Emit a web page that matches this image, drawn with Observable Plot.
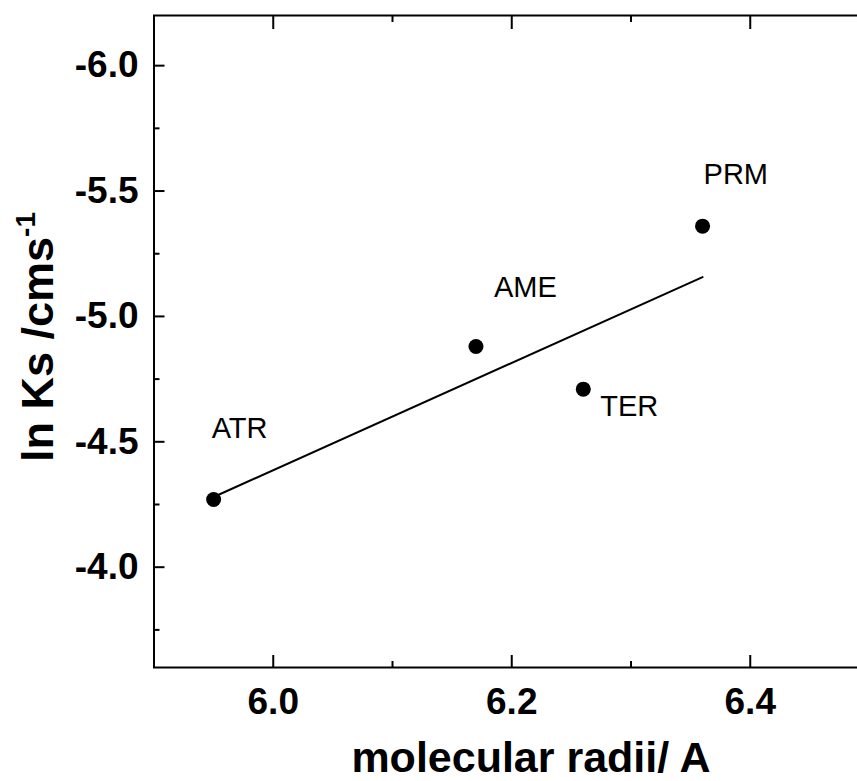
<!DOCTYPE html>
<html>
<head>
<meta charset="utf-8">
<script src="https://cdn.jsdelivr.net/npm/d3@7"></script>
<script src="https://cdn.jsdelivr.net/npm/@observablehq/plot@0.6"></script>
<style>
  html, body { margin: 0; padding: 0; background: #fff; overflow: hidden; }
  #chart { width: 857px; height: 781px; }
</style>
</head>
<body>
<div id="chart"></div>
<script>
// ---- data ----
const names = ["ATR", "AME", "TER", "PRM"];
const radii = [5.95, 6.17, 6.26, 6.36];
const lnKs = [-4.27, -4.88, -4.71, -5.36];
const fitX = [5.95, 6.36];
const fitY = [-4.28, -5.157];
const xMajor = [6.0, 6.2, 6.4];
const xMinor = [6.1, 6.3];
const yMajor = [-6.0, -5.5, -5.0, -4.5, -4.0];
const yMinor = [-5.75, -5.25, -4.75, -4.25, -3.75];

const points = names.map((n, i) => ({name: n, x: radii[i], y: lnKs[i]}));
const fit = fitX.map((x, i) => ({x, y: fitY[i]}));

const FONT = "'Liberation Sans', Arial, sans-serif";
const labelStyle = {
  ATR: {dx: -2, dy: -71},
  AME: {dx: 18, dy: -59},
  TER: {dx: 17, dy: 18},
  PRM: {dx: 1, dy: -51}
};
const fmt = d => d.toFixed(1);

const plot = Plot.plot({
  width: 857,
  height: 781,
  marginLeft: 153.5,
  marginRight: -12,
  marginTop: 15,
  marginBottom: 114,
  style: {fontFamily: FONT, background: "#fff", color: "#000"},
  x: {domain: [5.9, 6.5], label: null},
  y: {domain: [-3.6, -6.2], label: null},
  marks: [
    // tick labels
    Plot.axisY(yMajor, {anchor: "left", tickSize: 0, tickPadding: 15.5, tickFormat: fmt, fontSize: 37, fontWeight: "bold", label: null}),
    Plot.axisX(xMajor, {anchor: "bottom", tickSize: 0, tickPadding: 20, tickFormat: fmt, fontSize: 37, fontWeight: "bold", label: null}),
    // inward ticks
    Plot.axisY(yMajor, {anchor: "left", tickSize: -11, tickFormat: () => "", strokeWidth: 2, label: null}),
    Plot.axisY(yMinor, {anchor: "left", tickSize: -6, tickFormat: () => "", strokeWidth: 2, label: null}),
    Plot.axisX(xMajor, {anchor: "bottom", tickSize: -12, tickFormat: () => "", strokeWidth: 2, label: null}),
    Plot.axisX(xMinor, {anchor: "bottom", tickSize: -6, tickFormat: () => "", strokeWidth: 2, label: null}),
    Plot.axisX(xMajor, {anchor: "top", tickSize: -13, tickFormat: () => "", strokeWidth: 2, label: null}),
    Plot.axisX(xMinor, {anchor: "top", tickSize: -6, tickFormat: () => "", strokeWidth: 2, label: null}),
    Plot.frame({stroke: "#000", strokeWidth: 2}),
    Plot.line(fit, {x: "x", y: "y", stroke: "#000", strokeWidth: 2}),
    Plot.dot(points, {x: "x", y: "y", r: 7.5, fill: "#000", stroke: "none"}),
    ...names.map(n => Plot.text(points.filter(p => p.name === n), {
      x: "x", y: "y", text: "name", textAnchor: "start",
      dx: labelStyle[n].dx, dy: labelStyle[n].dy,
      fontSize: 29, fill: "#000"
    }))
  ]
});

const svg = d3.select(plot);
// y-axis title
const yt = svg.append("text")
  .attr("transform", "translate(53,462) rotate(-90)")
  .attr("text-anchor", "start")
  .attr("font-family", FONT)
  .attr("font-weight", "bold")
  .attr("font-size", 45)
  .attr("fill", "#000");
yt.append("tspan").text("ln Ks /cms");
yt.append("tspan").attr("font-size", 28).attr("dy", -18).text("-1");
// x-axis title
svg.append("text")
  .attr("x", 531).attr("y", 772)
  .attr("text-anchor", "middle")
  .attr("font-family", FONT)
  .attr("font-weight", "bold")
  .attr("font-size", 43)
  .attr("fill", "#000")
  .text("molecular radii/ A");

document.getElementById("chart").appendChild(plot);
</script>
</body>
</html>
